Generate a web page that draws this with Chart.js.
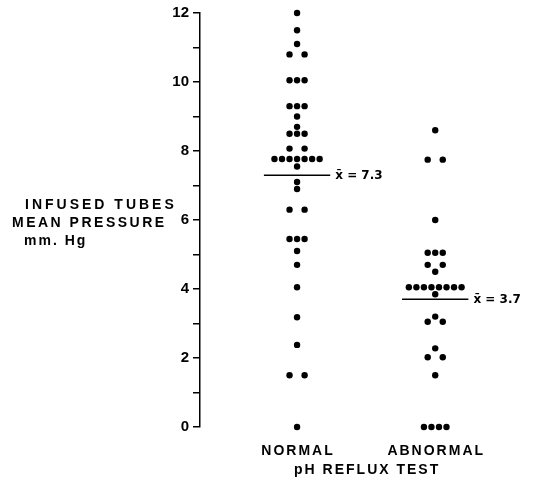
<!DOCTYPE html>
<html><head><meta charset="utf-8">
<script src="https://cdn.jsdelivr.net/npm/chart.js@4"></script>
<style>html,body{margin:0;padding:0;background:#fff}#wrap{width:535px;height:484px;position:relative}</style>
</head><body><div id="wrap"><canvas id="c" width="535" height="484"></canvas></div>
<script>
const categories = ['NORMAL', 'ABNORMAL'];
const normalValues = [12.0, 11.5, 11.1, 10.8, 10.8, 10.05, 10.05, 10.05, 9.3, 9.3, 9.3, 9.0, 8.7,
  8.5, 8.5, 8.5, 8.07, 8.07, 7.77, 7.77, 7.77, 7.77, 7.77, 7.77, 7.77, 7.55, 7.1, 6.9,
  6.3, 6.3, 5.45, 5.45, 5.45, 5.1, 4.7, 4.05, 3.18, 2.38, 1.5, 1.5, 0];
const abnormalValues = [8.6, 7.75, 7.75, 6.0, 5.05, 5.05, 5.05, 4.7, 4.7, 4.5,
  4.05, 4.05, 4.05, 4.05, 4.05, 4.05, 4.05, 4.05, 3.85, 3.2, 3.05, 3.05, 2.28, 2.02, 2.02, 1.5,
  0, 0, 0, 0];
const meanValues = [7.3, 3.7];
const meanLabels = ['x\u0304 = 7.3', 'x\u0304 = 3.7'];
const yTickValues = [0, 2, 4, 6, 8, 10, 12];
const yAxisTitle = ['INFUSED TUBES', 'MEAN PRESSURE', 'mm. Hg'];
const xAxisTitle = 'pH REFLUX TEST';

const DOT_STEP = 0.0545;
function spread(values, pos) {
  const groups = new Map();
  values.forEach(v => {
    const k = v.toFixed(2);
    if (!groups.has(k)) groups.set(k, []);
    groups.get(k).push(v);
  });
  const pts = [];
  groups.forEach(g => {
    const n = g.length;
    g.forEach((v, i) => {
      const off = n === 2 ? (i === 0 ? -1 : 1) : (i - (n - 1) / 2);
      pts.push({ x: pos + off * DOT_STEP, y: v });
    });
  });
  return pts;
}

const groupsData = [normalValues, abnormalValues];
const datasets = [];
groupsData.forEach((vals, i) => {
  datasets.push({
    type: 'scatter', data: spread(vals, i + 1),
    pointRadius: 3.2, pointBackgroundColor: '#000', pointBorderWidth: 0, pointHoverRadius: 3.2,
    clip: false
  });
});
meanValues.forEach((m, i) => {
  datasets.push({
    type: 'line', data: [{ x: i + 1 - 0.24, y: m }, { x: i + 1 + 0.24, y: m }],
    borderColor: '#000', borderWidth: 1.5, pointRadius: 0, showLine: true, clip: false
  });
});

const textPlugin = {
  id: 'texts',
  afterDraw(chart) {
    const { ctx, scales: { x, y } } = chart;
    ctx.save();
    ctx.fillStyle = '#000';
    ctx.textBaseline = 'middle';
    ctx.font = 'bold 14px "Liberation Sans"';
    ctx.letterSpacing = '2px';
    ctx.textAlign = 'center';
    categories.forEach((c, i) => ctx.fillText(c, x.getPixelForValue(i + 1) + 1, 451));
    ctx.fillText(xAxisTitle, (x.getPixelForValue(1) + x.getPixelForValue(2)) / 2 + 1, 470);
    ctx.textAlign = 'left';
    const lefts = [25, 12, 24];
    const spacings = ['3px', '2.5px', '2px'];
    yAxisTitle.forEach((t, i) => { ctx.letterSpacing = spacings[i]; ctx.fillText(t, lefts[i], 205 + i * 18); });
    ctx.letterSpacing = '0px';
    ctx.font = 'bold 12px "DejaVu Sans"';
    meanValues.forEach((m, i) => {
      ctx.fillText(meanLabels[i], x.getPixelForValue(i + 1 + 0.24) + 5, y.getPixelForValue(m) + 1);
    });
    ctx.restore();
  }
};

new Chart(document.getElementById('c'), {
  type: 'scatter',
  data: { datasets },
  options: {
    responsive: false, animation: false, devicePixelRatio: 1,
    layout: { padding: { top: 10, bottom: 57, left: 0, right: 0 } },
    plugins: { legend: { display: false }, tooltip: { enabled: false } },
    scales: {
      x: { type: 'linear', min: 0.2975, max: 2.699, display: false },
      y: {
        type: 'linear', min: 0, max: 12,
        afterFit: s => { s.width = 200; },
        ticks: {
          stepSize: 1, autoSkip: false, color: '#000', padding: 4,
          font: { family: 'Liberation Sans', size: 15, weight: 'bold' },
          callback: v => yTickValues.includes(v) ? String(v) : ''
        },
        grid: { drawOnChartArea: false, drawTicks: true, tickLength: 7, color: '#000', lineWidth: 1.5 },
        border: { display: true, color: '#000', width: 1.5 }
      }
    }
  },
  plugins: [textPlugin]
});
</script></body></html>
